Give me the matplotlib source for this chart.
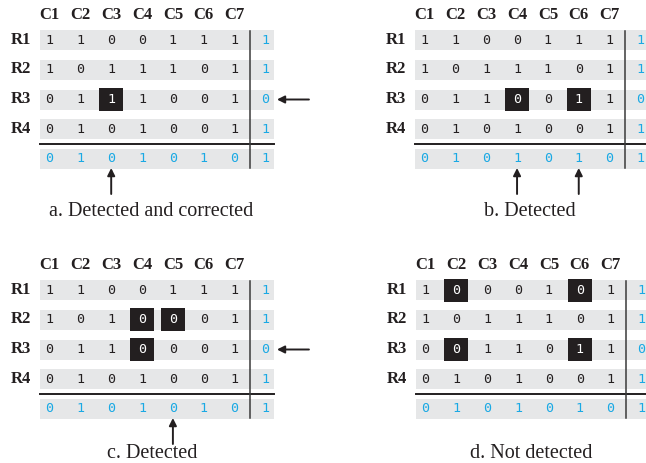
import numpy as np
import matplotlib.pyplot as plt
import matplotlib.patches as patches

# data: 4 data rows of 7 bits + row parity, then the column parity row
col_labels = ['C1', 'C2', 'C3', 'C4', 'C5', 'C6', 'C7']
row_labels = ['R1', 'R2', 'R3', 'R4']

bits_a = ['11001111', '10111011', '01110010', '01010011', '01010101']
bits_b = ['11001111', '10111011', '01100110', '01010011', '01010101']
bits_c = ['11001111', '10100011', '01100010', '01010011', '01010101']
bits_d = ['10001011', '10111011', '00110110', '01010011', '01010101']

# highlighted (changed) bits as (row, col)
flips_a = [(2, 2)]
flips_b = [(2, 3), (2, 5)]
flips_c = [(1, 3), (1, 4), (2, 3)]
flips_d = [(0, 1), (0, 5), (2, 1), (2, 5)]

# arrows: rows pointed at, columns pointed at
row_arrows = {'a': [2], 'b': [], 'c': [2], 'd': []}
col_arrows = {'a': [2], 'b': [3, 5], 'c': [4], 'd': []}

captions = {'a': 'a. Detected and corrected', 'b': 'b. Detected',
            'c': 'c. Detected', 'd': 'd. Not detected'}

GREY = '#e6e7e8'
BLUE = '#1aa9e4'
DARK = '#231f20'
SERIF = 'Liberation Serif'
MONO = 'DejaVu Sans Mono'

# layout in pixels
X_PITCH, Y_PITCH = 30.85, 29.75
BAND_H = 20

fig = plt.figure(figsize=(6.46, 4.63), dpi=100)
ax = fig.add_axes([0, 0, 1, 1])
ax.set_xlim(0, 646)
ax.set_ylim(463, 0)
ax.axis('off')


def draw_panel(key, bits, flips, x0, y0, cap_x, cap_y):
    cx = lambda j: x0 + 9.5 + X_PITCH * j
    cy = lambda i: y0 + BAND_H / 2 + Y_PITCH * i
    right = cx(7) + 8.5

    # grey bands
    for i in range(5):
        ax.add_patch(patches.Rectangle((x0, y0 + Y_PITCH * i), right - x0, BAND_H,
                                       facecolor=GREY, edgecolor='none', zorder=1))
    # separators
    sep_y = (cy(3) + cy(4)) / 2
    ax.plot([x0, right], [sep_y, sep_y], color=DARK, lw=1.4, zorder=3)
    sep_x = (cx(6) + cx(7)) / 2
    ax.plot([sep_x, sep_x], [y0 + 1, cy(4) + BAND_H / 2 - 1], color='#3a3a3a', lw=1.1, zorder=3)

    # labels
    for j, lab in enumerate(col_labels):
        ax.text(cx(j), y0 - 15, lab, ha='center', va='center', family=SERIF,
                fontweight='bold', fontsize=12, color=DARK)
    for i, lab in enumerate(row_labels):
        ax.text(x0 - 19, cy(i) - 0.5, lab, ha='center', va='center', family=SERIF,
                fontweight='bold', fontsize=12, color=DARK)

    # bits
    for i, row in enumerate(bits):
        for j, b in enumerate(row):
            color = BLUE if (i == 4 or j == 7) else DARK
            if (i, j) in flips:
                ax.add_patch(patches.Rectangle((cx(j) - 12, cy(i) - 11.5), 24, 23,
                                               facecolor=DARK, edgecolor='none', zorder=2))
                color = 'white'
            ax.text(cx(j), cy(i), b, ha='center', va='center', family=MONO,
                    fontsize=9.6, color=color, zorder=4)

    # arrows
    for i in row_arrows[key]:
        ax.annotate('', xy=(right + 3, cy(i)), xytext=(right + 35, cy(i)),
                    arrowprops=dict(arrowstyle='-|>', color=DARK, lw=1.4,
                                    mutation_scale=11, shrinkA=0, shrinkB=0))
    for j in col_arrows[key]:
        ax.annotate('', xy=(cx(j), cy(4) + 9), xytext=(cx(j), cy(4) + 35),
                    arrowprops=dict(arrowstyle='-|>', color=DARK, lw=1.4,
                                    mutation_scale=11, shrinkA=0, shrinkB=0))

    ax.text(cap_x, cap_y, captions[key], ha='center', va='center', family=SERIF,
            fontsize=14.5, color=DARK)


draw_panel('a', bits_a, flips_a, 40, 30, 151, 212)
draw_panel('b', bits_b, flips_b, 415, 30, 530, 212)
draw_panel('c', bits_c, flips_c, 40, 280, 152, 454)
draw_panel('d', bits_d, flips_d, 416, 280, 531, 454)

fig.savefig('out.png', dpi=100)
